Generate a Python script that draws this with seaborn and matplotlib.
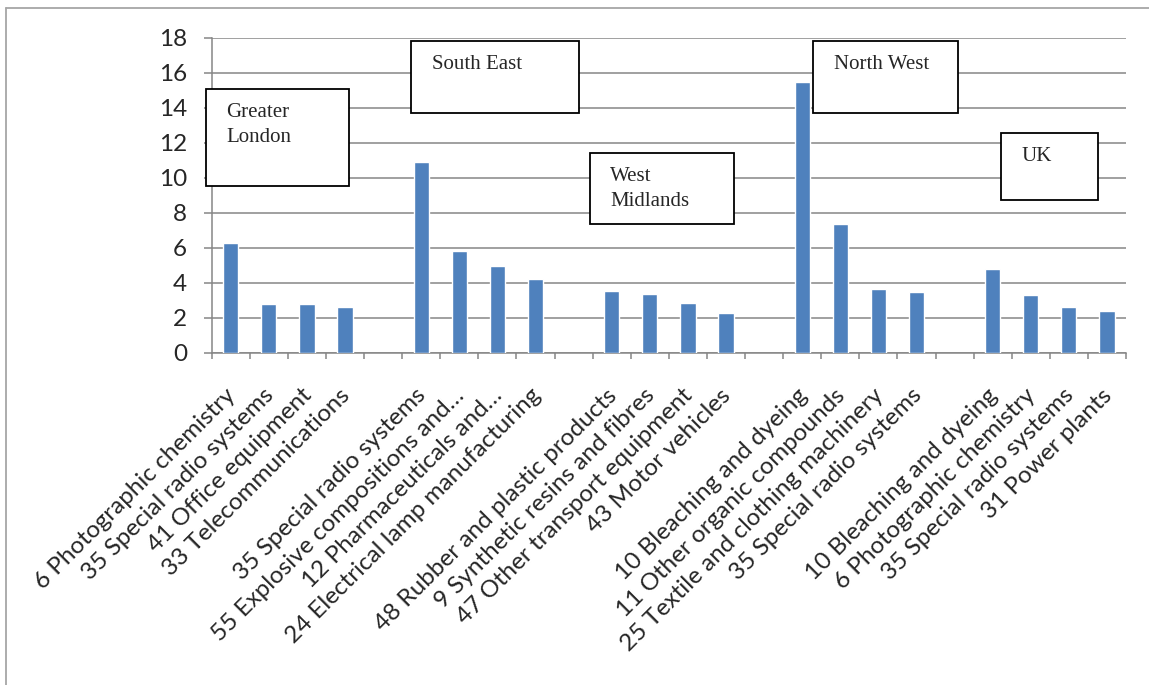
import matplotlib
matplotlib.use("Agg")
import matplotlib.pyplot as plt
from matplotlib.patches import Rectangle
from matplotlib.lines import Line2D
from matplotlib.transforms import ScaledTranslation
import numpy as np
import pandas as pd
import seaborn as sns

# Top industries by region (location quotients)
regions = ["Greater London", "South East", "West Midlands", "North West", "UK"]

london_labels = ["6 Photographic chemistry", "35 Special radio systems",
                 "41 Office equipment", "33 Telecommunications"]
london_values = [6.25, 2.78, 2.76, 2.61]

south_east_labels = ["35 Special radio systems", "55 Explosive compositions and\u2026",
                     "12 Pharmaceuticals and\u2026", "24 Electrical lamp manufacturing"]
south_east_values = [10.9, 5.8, 4.97, 4.2]

west_midlands_labels = ["48 Rubber and plastic products", "9 Synthetic resins and fibres",
                        "47 Other transport equipment", "43 Motor vehicles"]
west_midlands_values = [3.54, 3.35, 2.82, 2.25]

north_west_labels = ["10 Bleaching and dyeing", "11 Other organic compounds",
                     "25 Textile and clothing machinery", "35 Special radio systems"]
north_west_values = [15.47, 7.33, 3.63, 3.48]

uk_labels = ["10 Bleaching and dyeing", "6 Photographic chemistry",
             "35 Special radio systems", "31 Power plants"]
uk_values = [4.78, 3.31, 2.64, 2.38]

y_ticks = [0, 2, 4, 6, 8, 10, 12, 14, 16, 18]

# Build one slot per category, with an empty slot between region groups
groups = [(london_labels, london_values), (south_east_labels, south_east_values),
          (west_midlands_labels, west_midlands_values), (north_west_labels, north_west_values),
          (uk_labels, uk_values)]
tick_text, heights = [], []
for i, (labs, vals) in enumerate(groups):
    if i > 0:
        tick_text.append("")
        heights.append(np.nan)
    tick_text.extend(labs)
    heights.extend(vals)
df = pd.DataFrame({"slot": np.arange(len(heights)), "value": heights})

sns.set_style("white")
plt.rcParams["font.family"] = ["Lato", "DejaVu Sans"]

W, H = 1149, 685
fig = plt.figure(figsize=(W / 100, H / 100), dpi=100)
ax = fig.add_axes([211.7 / W, 1 - 352.7 / H, (1126 - 211.7) / W, (352.7 - 37.7) / H])

grid_col = "#868686"
sns.barplot(data=df, x="slot", y="value", color="#4F81BD", saturation=1,
            width=0.4, errorbar=None, ax=ax, zorder=3)

ax.set_xlim(-0.5, len(heights) - 0.5)
ax.set_ylim(0, 18)
ax.set_yticks(y_ticks)
ax.set_yticklabels([str(v) for v in y_ticks], fontsize=17.5)
ax.set_xlabel("")
ax.set_ylabel("")

ax.yaxis.grid(True, color=grid_col, lw=1.1)
ax.xaxis.grid(False)
ax.set_axisbelow(True)
for side in ("top", "right"):
    ax.spines[side].set_visible(False)
for side in ("left", "bottom"):
    ax.spines[side].set_color(grid_col)
    ax.spines[side].set_linewidth(1.1)

ax.tick_params(axis="y", length=5.8, width=1.1, color=grid_col, pad=12, direction="out", left=True)
ax.set_xticks(np.arange(len(heights)))
ax.set_xticklabels(tick_text, rotation=45, ha="right", va="top", fontsize=17.5)
ax.tick_params(axis="x", which="major", length=0, pad=23)
ax.set_xticks(np.arange(len(heights) + 1) - 0.5, minor=True)
ax.tick_params(axis="x", which="minor", length=4.3, width=1.1, color=grid_col,
               direction="out", bottom=True)
shift = ScaledTranslation(9 / 100, 0, fig.dpi_scale_trans)
for lab in ax.get_xticklabels():
    lab.set_transform(lab.get_transform() + shift)

# Region name boxes (pixel coordinates of the figure)
boxes = [
    ("Greater\nLondon", 205.7, 89.0, 349.3, 185.7, 226, 103),
    ("South East", 411.3, 40.7, 579.3, 112.7, 432, 55),
    ("West\nMidlands", 589.5, 152.7, 733.7, 224.3, 610, 167),
    ("North West", 813.4, 40.7, 957.6, 112.7, 834, 55),
    ("UK", 1001.0, 132.7, 1097.6, 200.0, 1022, 147),
]
for name, x0, y0, x1, y1, tx, ty in boxes:
    fig.add_artist(Rectangle((x0 / W, 1 - y1 / H), (x1 - x0) / W, (y1 - y0) / H,
                             transform=fig.transFigure, facecolor="white",
                             edgecolor="black", lw=1.3, zorder=5))
    fig.text(tx / W, 1 - ty / H, name, fontfamily="Liberation Serif", fontsize=15,
             ha="left", va="top", linespacing=1.4, zorder=6)

# Outer chart frame (top and left edges)
frame_col = "#A6A6A6"
fig.add_artist(Line2D([6 / W, 1], [1 - 8 / H, 1 - 8 / H], transform=fig.transFigure,
                      color=frame_col, lw=1.3))
fig.add_artist(Line2D([6 / W, 6 / W], [1 - 8 / H, 0], transform=fig.transFigure,
                      color=frame_col, lw=1.3))

fig.savefig("out.png", dpi=100)
